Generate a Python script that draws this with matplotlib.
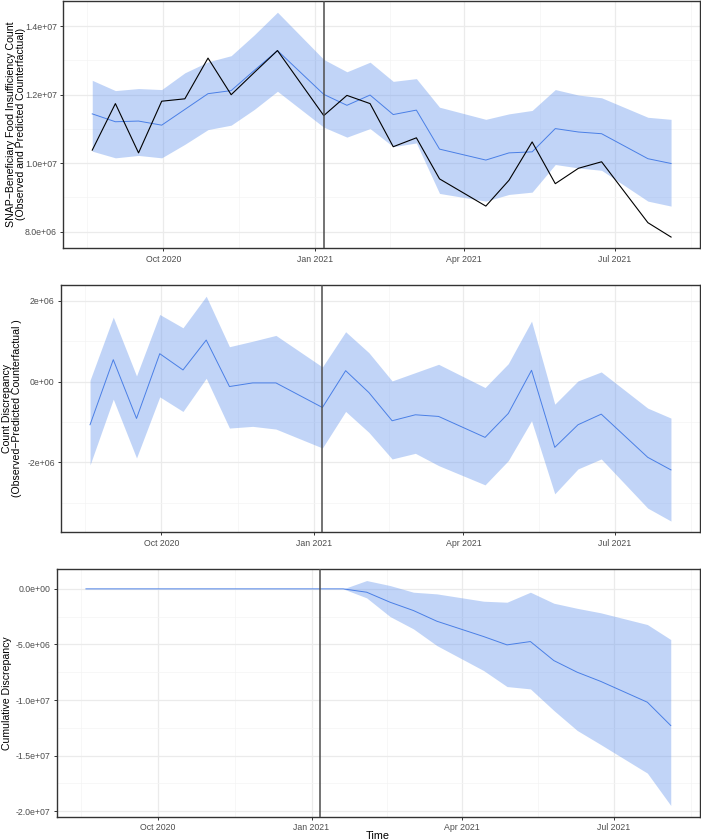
import numpy as np
import pandas as pd
import matplotlib
matplotlib.use("Agg")
import matplotlib.pyplot as plt
import matplotlib.dates as mdates
from matplotlib.ticker import FuncFormatter, AutoMinorLocator, FixedLocator

plt.rcParams['font.family'] = ['Liberation Sans', 'DejaVu Sans']

# survey period start dates (biweekly)
dates = pd.to_datetime([
    "2020-08-19", "2020-09-02", "2020-09-16", "2020-09-30", "2020-10-14",
    "2020-10-28", "2020-11-11", "2020-11-25", "2020-12-09", "2021-01-06",
    "2021-01-20", "2021-02-03", "2021-02-17", "2021-03-03", "2021-03-17",
    "2021-04-14", "2021-04-28", "2021-05-12", "2021-05-26", "2021-06-09",
    "2021-06-23", "2021-07-21", "2021-08-04"])
intervention = pd.Timestamp("2021-01-06")

# panel 1: observed and predicted counts
observed = [1.038e7, 1.174e7, 1.030e7, 1.181e7, 1.188e7, 1.307e7, 1.200e7, 1.265e7,
            1.329e7, 1.139e7, 1.198e7, 1.174e7, 1.048e7, 1.074e7, 0.954e7, 0.8745e7,
            0.950e7, 1.062e7, 0.940e7, 0.985e7, 1.004e7, 0.826e7, 0.784e7]
predicted = [1.144e7, 1.121e7, 1.123e7, 1.111e7, 1.157e7, 1.203e7, 1.212e7, 1.271e7,
             1.329e7, 1.201e7, 1.169e7, 1.199e7, 1.142e7, 1.155e7, 1.041e7, 1.009e7,
             1.030e7, 1.033e7, 1.101e7, 1.091e7, 1.086e7, 1.013e7, 0.999e7]
pred_upper = [1.242e7, 1.212e7, 1.218e7, 1.215e7, 1.264e7, 1.296e7, 1.314e7, 1.375e7,
              1.441e7, 1.303e7, 1.267e7, 1.295e7, 1.239e7, 1.247e7, 1.1635e7, 1.128e7,
              1.144e7, 1.154e7, 1.215e7, 1.199e7, 1.191e7, 1.134e7, 1.128e7]
pred_lower = [1.035e7, 1.0155e7, 1.0225e7, 1.0155e7, 1.055e7, 1.098e7, 1.111e7, 1.157e7,
              1.210e7, 1.105e7, 1.076e7, 1.101e7, 1.048e7, 1.059e7, 0.9115e7, 0.889e7,
              0.9085e7, 0.9153e7, 0.996e7, 0.986e7, 0.979e7, 0.889e7, 0.8745e7]

# panel 2: pointwise discrepancy
point = [-1.07e6, 0.543e6, -0.914e6, 0.691e6, 0.288e6, 1.029e6, -0.123e6, -0.033e6,
         -0.033e6, -0.642e6, 0.27e6, -0.272e6, -0.971e6, -0.823e6, -0.864e6, -1.383e6,
         -0.79e6, 0.28e6, -1.63e6, -1.07e6, -0.807e6, -1.877e6, -2.189e6]
point_upper = [0.033e6, 1.597e6, 0.14e6, 1.663e6, 1.333e6, 2.115e6, 0.864e6, 1.0e6,
               1.144e6, 0.362e6, 1.235e6, 0.716e6, 0.016e6, 0.222e6, 0.428e6, -0.148e6,
               0.444e6, 1.498e6, -0.56e6, 0.016e6, 0.239e6, -0.658e6, -0.905e6]
point_lower = [-2.066e6, -0.436e6, -1.893e6, -0.379e6, -0.741e6, 0.082e6, -1.152e6, -1.11e6,
               -1.177e6, -1.646e6, -0.74e6, -1.259e6, -1.918e6, -1.778e6, -2.082e6, -2.56e6,
               -1.959e6, -0.971e6, -2.782e6, -2.165e6, -1.918e6, -3.136e6, -3.457e6]

# panel 3: cumulative discrepancy
cum = [0, 0, 0, 0, 0, 0, 0, 0, 0, 0, 0, -0.3e6, -1.2e6, -1.95e6, -2.91e6, -4.29e6,
       -5.04e6, -4.74e6, -6.45e6, -7.5e6, -8.32e6, -10.2e6, -12.3e6]
cum_upper = [0, 0, 0, 0, 0, 0, 0, 0, 0, 0, 0, 0.75e6, 0.3e6, -0.3e6, -0.45e6, -1.11e6,
             -1.2e6, -0.3e6, -1.29e6, -1.75e6, -2.15e6, -3.21e6, -4.56e6]
cum_lower = [0, 0, 0, 0, 0, 0, 0, 0, 0, 0, 0, -0.81e6, -2.49e6, -3.6e6, -5.1e6, -7.35e6,
             -8.79e6, -9.0e6, -10.94e6, -12.74e6, -14.0e6, -16.58e6, -19.49e6]

line_blue = '#4a7fe6'
band_blue = '#6495ED'

fig = plt.figure(figsize=(7.01, 8.4), dpi=100)
W, H = 701.0, 840.0

def make_ax(left, top, bottom):
    return fig.add_axes([left / W, 1 - bottom / H, (700 - left) / W, (bottom - top) / H])

ax1 = make_ax(63.3, 1.0, 248.3)
ax2 = make_ax(61.0, 285.0, 532.3)
ax3 = make_ax(56.7, 569.3, 816.7)

# minor date gridlines halfway between quarter ticks
quarters = mdates.date2num(pd.to_datetime(["2020-07-01", "2020-10-01", "2021-01-01",
                                           "2021-04-01", "2021-07-01", "2021-10-01"]))
quarter_mid = (quarters[:-1] + quarters[1:]) / 2

def style(ax, fmt):
    ax.set_axisbelow(True)
    ax.xaxis.set_major_locator(mdates.MonthLocator(bymonth=[1, 4, 7, 10]))
    ax.xaxis.set_major_formatter(mdates.DateFormatter('%b %Y'))
    ax.xaxis.set_minor_locator(FixedLocator(quarter_mid))
    ax.yaxis.set_minor_locator(AutoMinorLocator(2))
    ax.yaxis.set_major_formatter(FuncFormatter(lambda v, p: fmt.format(v)))
    ax.grid(which='major', color='#ebebeb', lw=0.9)
    ax.grid(which='minor', color='#f4f4f4', lw=0.5)
    ax.tick_params(which='major', length=2.5, width=0.7, color='#333333',
                   labelsize=6.3, labelcolor='#4d4d4d', pad=2)
    ax.tick_params(which='minor', length=0)
    for s in ax.spines.values():
        s.set_color('#333333')
        s.set_linewidth(1.0)
    ax.axvline(intervention, color='#4d4d4d', lw=1.1, zorder=4)
    span = dates[-1] - dates[0]
    ax.set_xlim(dates[0] - span * 0.05, dates[-1] + span * 0.05)

ax1.fill_between(dates, pred_lower, pred_upper, color=band_blue, alpha=0.4, lw=0)
ax1.plot(dates, predicted, color=line_blue, lw=0.7)
ax1.plot(dates, observed, color='black', lw=0.8)
style(ax1, '{:.1e}')
ax1.set_yticks([8e6, 1e7, 1.2e7, 1.4e7])

ax2.fill_between(dates, point_lower, point_upper, color=band_blue, alpha=0.4, lw=0)
ax2.plot(dates, point, color=line_blue, lw=0.7)
style(ax2, '{:.0e}')
ax2.set_yticks([-2e6, 0, 2e6])

ax3.fill_between(dates, cum_lower, cum_upper, color=band_blue, alpha=0.4, lw=0)
ax3.plot(dates, cum, color=line_blue, lw=0.7)
style(ax3, '{:.1e}')
ax3.set_yticks([-2e7, -1.5e7, -1e7, -5e6, 0])

fig.text(16 / W, 1 - 124 / H,
         'SNAP\u2212Beneficiary Food Insufficiency Count\n(Observed and Predicted Counterfactual)',
         rotation=90, ha='center', va='center', multialignment='center', fontsize=7.6,
         linespacing=1.0)
fig.text(12 / W, 1 - 408 / H,
         'Count Discrepancy\n(Observed\u2212Predicted Counterfactual )',
         rotation=90, ha='center', va='center', multialignment='center', fontsize=7.6,
         linespacing=1.0)
fig.text(7 / W, 1 - 693 / H, 'Cumulative Discrepancy',
         rotation=90, ha='center', va='center', fontsize=7.6)
fig.text(378 / W, 1 - 836 / H, 'Time', ha='center', va='center', fontsize=7.8)

fig.savefig('out.png', dpi=100)
